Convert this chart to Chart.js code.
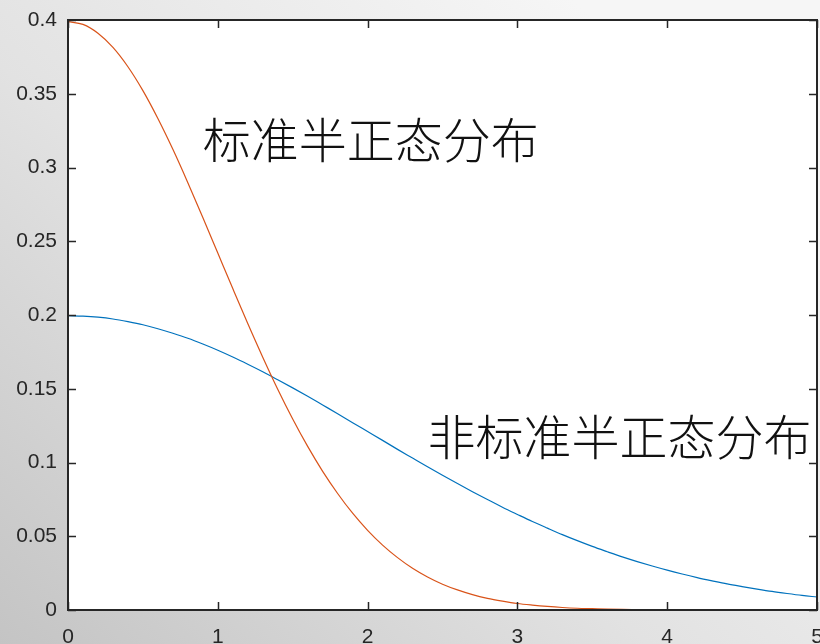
<!DOCTYPE html>
<html>
<head>
<meta charset="utf-8">
<script src="https://cdn.jsdelivr.net/npm/chart.js@4/dist/chart.umd.min.js"></script>
<style>
  html, body { margin: 0; padding: 0; }
  body { width: 820px; height: 644px; overflow: hidden; }
  #wrap { position: relative; width: 820px; height: 644px; }
</style>
</head>
<body>
<div id="wrap"><canvas id="grafico"></canvas></div>
<script>
// eixo x: 0 a 5, passo 0.1
const xs = [
  0.0, 0.1, 0.2, 0.3, 0.4, 0.5, 0.6, 0.7, 0.8, 0.9,
  1.0, 1.1, 1.2, 1.3, 1.4, 1.5, 1.6, 1.7, 1.8, 1.9,
  2.0, 2.1, 2.2, 2.3, 2.4, 2.5, 2.6, 2.7, 2.8, 2.9,
  3.0, 3.1, 3.2, 3.3, 3.4, 3.5, 3.6, 3.7, 3.8, 3.9,
  4.0, 4.1, 4.2, 4.3, 4.4, 4.5, 4.6, 4.7, 4.8, 4.9, 5.0
];

// 标准半正态分布 (laranja)
const padrao = [
  0.3989, 0.3970, 0.3910, 0.3814, 0.3683, 0.3521, 0.3332, 0.3123, 0.2897, 0.2661,
  0.2420, 0.2179, 0.1942, 0.1714, 0.1497, 0.1295, 0.1109, 0.0940, 0.0790, 0.0656,
  0.0540, 0.0440, 0.0355, 0.0283, 0.0224, 0.0175, 0.0136, 0.0104, 0.0079, 0.0060,
  0.0044, 0.0033, 0.0024, 0.0017, 0.0012, 0.0009, 0.0006, 0.0004, 0.0003, 0.0002,
  0.0001, 0.0001, 0.0001, 0.0000, 0.0000, 0.0000, 0.0000, 0.0000, 0.0000, 0.0000, 0.0000
];

// 非标准半正态分布 (azul)
const naoPadrao = [
  0.1995, 0.1992, 0.1985, 0.1973, 0.1955, 0.1934, 0.1907, 0.1876, 0.1842, 0.1803,
  0.1761, 0.1715, 0.1666, 0.1615, 0.1561, 0.1506, 0.1449, 0.1390, 0.1331, 0.1270,
  0.1210, 0.1150, 0.1089, 0.1030, 0.0971, 0.0913, 0.0857, 0.0802, 0.0749, 0.0697,
  0.0648, 0.0600, 0.0555, 0.0511, 0.0470, 0.0431, 0.0395, 0.0360, 0.0328, 0.0298,
  0.0270, 0.0244, 0.0220, 0.0198, 0.0177, 0.0159, 0.0142, 0.0126, 0.0112, 0.0099, 0.0088
];

const ticksX = [0, 1, 2, 3, 4, 5];
const ticksY = [0, 0.05, 0.1, 0.15, 0.2, 0.25, 0.3, 0.35, 0.4];
const rotulos = [
  { texto: '标准半正态分布', x: 0.90, y: 0.3186 },
  { texto: '非标准半正态分布', x: 2.40, y: 0.1173 }
];

const COR_EIXO = '#262626';
const FONTE_EIXO = { family: '"Liberation Sans", Arial, sans-serif', size: 21 };

const pontos = (serie) => xs.map((x, i) => ({ x, y: serie[i] }));

// fundo cinza em degradê atrás de tudo
const fundo = {
  id: 'fundo',
  beforeDraw(chart) {
    const { ctx, width, height, chartArea: a } = chart;
    ctx.save();
    const g = ctx.createLinearGradient(width * 0.7, 0, 0, height);
    g.addColorStop(0, '#f6f6f6');
    g.addColorStop(0.5, '#e2e2e2');
    g.addColorStop(1, '#c4c4c4');
    ctx.fillStyle = g;
    ctx.fillRect(0, 0, width, height);
    ctx.fillStyle = '#ffffff';
    ctx.fillRect(a.left, a.top, a.right - a.left, a.bottom - a.top);
    ctx.restore();
  }
};

// moldura e marcas de escala voltadas para dentro, nos quatro lados
const moldura = {
  id: 'moldura',
  afterDraw(chart) {
    const { ctx, chartArea: a, scales } = chart;
    const L = 8;
    ctx.save();
    ctx.strokeStyle = COR_EIXO;
    ctx.lineWidth = 1.5;
    ctx.beginPath();
    ticksX.forEach(v => {
      const px = Math.round(scales.x.getPixelForValue(v)) + 0.5;
      ctx.moveTo(px, a.bottom); ctx.lineTo(px, a.bottom - L);
      ctx.moveTo(px, a.top); ctx.lineTo(px, a.top + L);
    });
    ticksY.forEach(v => {
      const py = Math.round(scales.y.getPixelForValue(v)) + 0.5;
      ctx.moveTo(a.left, py); ctx.lineTo(a.left + L, py);
      ctx.moveTo(a.right, py); ctx.lineTo(a.right - L, py);
    });
    ctx.stroke();
    ctx.lineWidth = 2;
    ctx.strokeRect(a.left, a.top, a.right - a.left, a.bottom - a.top);
    ctx.restore();
  }
};

// textos dentro da área do gráfico
const textos = {
  id: 'textos',
  afterDatasetsDraw(chart) {
    const { ctx, scales } = chart;
    ctx.save();
    ctx.fillStyle = '#111111';
    ctx.font = '300 48px "Noto Sans CJK SC"';
    ctx.textBaseline = 'middle';
    ctx.textAlign = 'left';
    rotulos.forEach(r => {
      ctx.fillText(r.texto, scales.x.getPixelForValue(r.x), scales.y.getPixelForValue(r.y));
    });
    ctx.restore();
  }
};

new Chart(document.getElementById('grafico'), {
  type: 'line',
  data: {
    datasets: [
      {
        label: '标准半正态分布',
        data: pontos(padrao),
        borderColor: '#D95319',
        borderWidth: 1.2,
        pointRadius: 0,
        cubicInterpolationMode: 'monotone',
        fill: false
      },
      {
        label: '非标准半正态分布',
        data: pontos(naoPadrao),
        borderColor: '#0072BD',
        borderWidth: 1.2,
        pointRadius: 0,
        cubicInterpolationMode: 'monotone',
        fill: false
      }
    ]
  },
  options: {
    responsive: true,
    maintainAspectRatio: false,
    animation: false,
    layout: { padding: { top: 20, right: 3, left: 0, bottom: 0 } },
    scales: {
      x: {
        type: 'linear',
        min: 0,
        max: 5,
        afterBuildTicks: (s) => { s.ticks = ticksX.map(v => ({ value: v })); },
        afterFit: (s) => { s.height = 34; s.paddingLeft = 0; s.paddingRight = 0; },
        grid: { display: false, drawTicks: false },
        border: { display: false },
        ticks: {
          color: COR_EIXO,
          padding: 15,
          font: FONTE_EIXO,
          callback: (v) => String(v)
        }
      },
      y: {
        min: 0,
        max: 0.4,
        afterBuildTicks: (s) => { s.ticks = ticksY.map(v => ({ value: v })); },
        afterFit: (s) => { s.width = 68; s.paddingTop = 0; s.paddingBottom = 0; },
        grid: { display: false, drawTicks: false },
        border: { display: false },
        ticks: {
          color: COR_EIXO,
          padding: 11,
          font: FONTE_EIXO,
          callback: (v) => String(Math.round(v * 100) / 100)
        }
      }
    },
    plugins: {
      legend: { display: false },
      tooltip: { enabled: false }
    }
  },
  plugins: [fundo, moldura, textos]
});
</script>
</body>
</html>
